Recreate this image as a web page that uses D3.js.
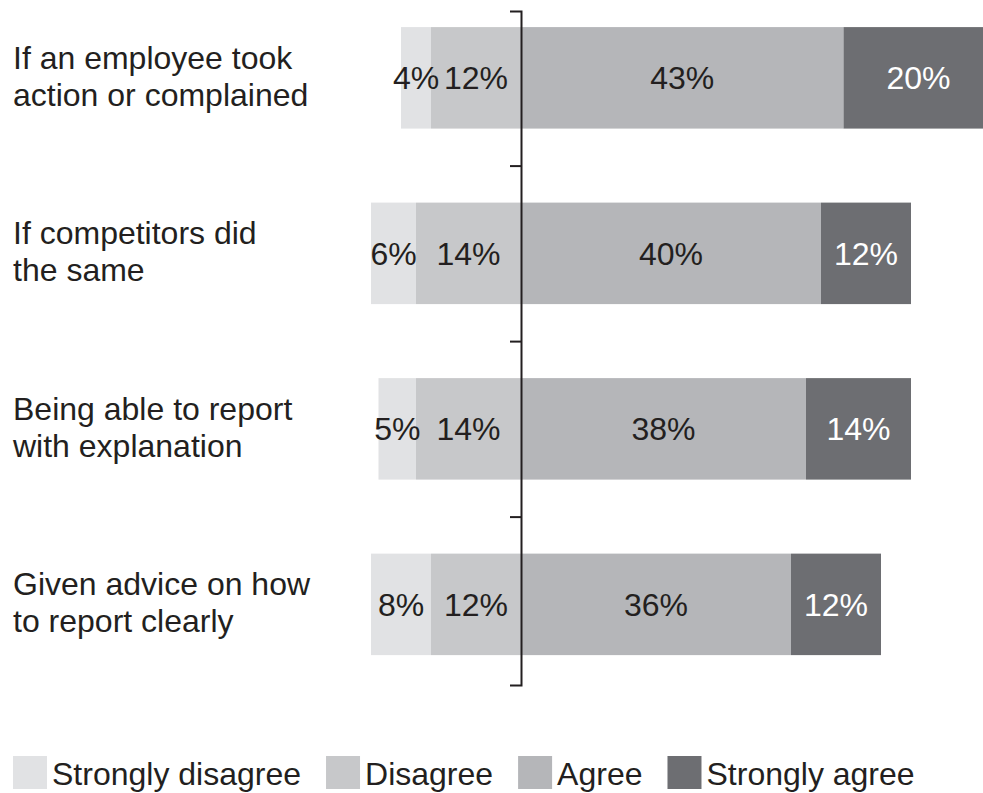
<!DOCTYPE html>
<html>
<head>
<meta charset="utf-8">
<script src="https://cdn.jsdelivr.net/npm/d3@7"></script>
<style>
  html, body { margin: 0; padding: 0; background: #fff; }
  svg { display: block; font-family: "Liberation Sans", Arial, Helvetica, sans-serif; }
</style>
</head>
<body>
<svg id="chart" width="983" height="793"></svg>
<script>
// Survey statements (each split over two lines)
const categories = [
  ["If an employee took", "action or complained"],
  ["If competitors did", "the same"],
  ["Being able to report", "with explanation"],
  ["Given advice on how", "to report clearly"]
];

// Percentages per response level
const stronglyDisagree = [4, 6, 5, 8];
const disagree         = [12, 14, 14, 12];
const agree            = [43, 40, 38, 36];
const stronglyAgree    = [20, 12, 14, 12];

const legendLabels = ["Strongly disagree", "Disagree", "Agree", "Strongly agree"];
const colors = ["#e1e2e4", "#c7c8ca", "#b5b6b9", "#6d6e72"];
const textDark = "#231f20";

const svg = d3.select("#chart");
const W = 983;

// Horizontal scale: negatives to the left of the centre line, positives to the right
const x = d3.scaleLinear().domain([-20, 60]).range([371, 971]);

const keys = categories.map((c, i) => i);
const y = d3.scaleBand()
  .domain(keys)
  .range([11, 685])
  .paddingInner(0.4217)
  .paddingOuter(0.131)
  .align(0.35);

// Build diverging segments for every row
const rows = keys.map(i => {
  const sd = stronglyDisagree[i], d = disagree[i], a = agree[i], sa = stronglyAgree[i];
  return [
    { row: i, level: 0, v: sd, x0: -(d + sd), x1: -d },
    { row: i, level: 1, v: d,  x0: -d,        x1: 0 },
    { row: i, level: 2, v: a,  x0: 0,         x1: a },
    { row: i, level: 3, v: sa, x0: a,         x1: a + sa }
  ];
});
const segments = rows.flat();

const gBars = svg.append("g");
gBars.selectAll("rect")
  .data(segments)
  .join("rect")
  .attr("x", s => x(s.x0))
  .attr("y", s => y(s.row))
  .attr("width", s => x(s.x1) - x(s.x0))
  .attr("height", y.bandwidth())
  .attr("fill", s => colors[s.level]);

// Value labels centred in each segment
gBars.selectAll("text")
  .data(segments)
  .join("text")
  .attr("x", s => (x(s.x0) + x(s.x1)) / 2)
  .attr("y", s => y(s.row) + y.bandwidth() / 2)
  .attr("dy", "0.35em")
  .attr("text-anchor", "middle")
  .attr("font-size", 32)
  .attr("fill", s => s.level === 3 ? "#ffffff" : textDark)
  .text(s => s.v + "%");

// Centre axis with ticks between the rows
const step = y.step();
const boundaries = keys.slice(1).map(i => y(i) - step * y.paddingInner() / 2);
const axisScale = d3.scaleIdentity().domain(y.range());
const axis = d3.axisLeft(axisScale)
  .tickValues(boundaries)
  .tickSize(11)
  .tickSizeOuter(11)
  .tickFormat("");
const gAxis = svg.append("g")
  .attr("transform", `translate(${x(0)},0)`)
  .call(axis);
gAxis.selectAll("path, line")
  .attr("stroke", textDark)
  .attr("stroke-width", 2);

// Category labels on the left
const gCat = svg.append("g");
keys.forEach(i => {
  const cy = y(i) + y.bandwidth() / 2;
  const t = gCat.append("text")
    .attr("x", 13)
    .attr("y", cy - 9)
    .attr("font-size", 32)
    .attr("fill", textDark);
  categories[i].forEach((line, j) => {
    t.append("tspan")
      .attr("x", 13)
      .attr("dy", j === 0 ? 0 : 37)
      .text(line);
  });
});

// Legend along the bottom
const gLeg = svg.append("g");
let lx = 13;
legendLabels.forEach((lab, i) => {
  gLeg.append("rect")
    .attr("x", lx).attr("y", 756)
    .attr("width", 34).attr("height", 33)
    .attr("fill", colors[i]);
  const t = gLeg.append("text")
    .attr("x", lx + 39)
    .attr("y", 785)
    .attr("font-size", 32)
    .attr("fill", textDark)
    .text(lab);
  lx += 39 + t.node().getComputedTextLength() + 25;
});
</script>
</body>
</html>
